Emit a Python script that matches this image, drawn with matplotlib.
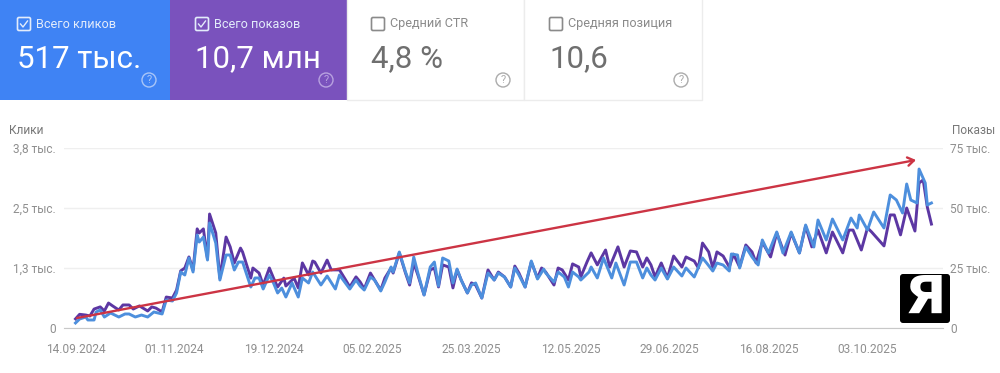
import matplotlib.pyplot as plt
from matplotlib.patches import Rectangle, FancyBboxPatch, Circle

plt.rcParams["font.family"] = ["Roboto", "DejaVu Sans"]

# Days since 14.09.2024 and impressions, thousands
shows_days = [0, 2, 5, 7, 9, 12, 14, 16, 18, 21, 23, 26, 28, 31, 35, 37, 39, 42, 44, 47, 49, 51, 53, 55, 57, 59, 60, 62, 64, 65, 68, 70, 73, 75, 77, 80, 81, 85, 86, 89, 91, 94, 96, 98, 101, 102, 106, 108, 110, 113, 115, 116, 119, 122, 124, 128, 131, 133, 136, 138,
              140, 143, 145, 148, 150, 153, 154, 157, 160, 162, 164, 166, 169, 172, 174, 176, 178, 181, 183, 185, 187, 190, 192, 194, 197, 200, 203, 205, 208, 211, 213, 215, 218, 221, 224, 226, 228, 232, 234, 236, 239, 241, 244, 245, 248, 250, 253, 257, 259, 263, 266, 269, 272, 275, 277, 279,
              281, 284, 287, 290, 294, 296, 300, 302, 304, 307, 309, 311, 314, 317, 319, 322, 325, 328, 330, 333, 337, 340, 344, 347, 351, 354, 357, 360, 364, 367, 372, 375, 377, 381, 384, 386, 392, 395, 397, 400, 403, 407, 409, 411, 413, 415]
shows = [3.8, 5.7, 5.4, 5.0, 7.9, 8.8, 7.1, 10.4, 9.2, 7.5, 9.6, 9.6, 7.9, 9.2, 7.1, 8.8, 8.3, 6.7, 12.9, 12.5, 15.8, 23.8, 25.0, 29.6, 24.2, 41.3, 39.6, 41.3, 28.8, 47.5, 39.6, 20.8, 37.9, 33.8, 27.1, 33.3, 31.7, 20.8, 25.0, 22.9, 17.9, 25.0, 20.8, 17.1, 20.8, 17.5, 20.8, 16.7, 27.1, 22.1, 27.9, 27.5, 22.9, 28.3, 24.2, 24.2, 20.0, 17.1, 21.3, 19.2,
         16.3, 22.9, 20.0, 15.8, 20.8, 25.0, 22.9, 31.3, 22.9, 17.9, 27.1, 22.1, 13.8, 24.2, 25.0, 17.1, 26.3, 25.4, 16.7, 24.2, 20.0, 14.6, 18.8, 17.9, 12.5, 24.2, 20.0, 23.3, 21.3, 17.1, 25.8, 22.9, 17.1, 27.5, 20.8, 25.0, 23.3, 17.9, 25.0, 24.2, 20.0, 26.7, 25.4, 21.3, 27.5, 31.3, 26.3, 32.5, 25.4, 33.8, 25.4, 32.1, 31.7, 25.4, 29.2, 26.3,
         21.3, 27.1, 20.8, 30.0, 25.4, 29.6, 27.9, 25.0, 35.4, 31.7, 25.0, 31.7, 30.0, 25.4, 30.8, 25.4, 34.6, 31.7, 27.1, 35.8, 29.6, 39.6, 30.4, 39.6, 31.3, 42.5, 33.8, 40.8, 31.3, 40.0, 31.3, 40.8, 40.8, 32.5, 41.7, 40.0, 34.2, 47.1, 47.1, 38.8, 50.0, 40.4, 60.4, 61.7, 50.4, 43.3]

# Days since 14.09.2024 and clicks
clicks_days = [0, 2, 5, 6, 9, 10, 12, 14, 17, 21, 24, 26, 29, 32, 35, 38, 42, 44, 47, 49, 51, 53, 55, 57, 59, 60, 62, 64, 65, 68, 70, 73, 75, 77, 79, 81, 85, 87, 89, 91, 94, 96, 98, 100, 102, 105, 108, 110, 113, 115, 119, 122, 126, 128, 133, 136, 138,
               140, 143, 145, 148, 150, 153, 154, 157, 160, 162, 164, 166, 169, 172, 174, 176, 178, 181, 183, 185, 187, 190, 192, 194, 197, 200, 203, 205, 208, 211, 213, 215, 218, 221, 224, 227, 228, 232, 234, 237, 239, 241, 244, 245, 249, 250, 253, 256, 260, 262, 266, 269, 272, 275, 277, 279,
               281, 284, 287, 290, 294, 296, 300, 304, 306, 309, 311, 314, 317, 318, 321, 322, 325, 328, 331, 333, 336, 340, 343, 347, 351, 354, 358, 360, 364, 367, 372, 376, 379, 380, 384, 387, 392, 395, 398, 401, 403, 405, 408, 409, 412, 413, 415]
clicks = [106, 190, 232, 169, 169, 338, 380, 232, 317, 232, 296, 296, 232, 274, 232, 338, 296, 591, 570, 739, 1182, 1119, 1478, 1182, 1963, 1815, 1921, 1435, 2217, 1794, 1013, 1541, 1541, 1224, 1393, 1393, 865, 1056, 1056, 823, 1119, 950, 739, 844, 654, 950, 654, 1056, 950, 1182, 908, 1098, 823, 1119, 823, 1013, 887,
          802, 1077, 1013, 781, 971, 1288, 1182, 1604, 1182, 950, 1499, 1161, 697, 1288, 1393, 887, 1478, 1414, 950, 1245, 1013, 739, 908, 950, 633, 1161, 1013, 1161, 1077, 865, 1267, 1119, 865, 1414, 1034, 1245, 1161, 971, 1182, 1077, 865, 1182, 1077, 1013, 1182, 1288, 1056, 1478, 1056, 1372, 908, 1393, 1393, 1056, 1267, 1119,
          1013, 1267, 1034, 1288, 1098, 1267, 1077, 1478, 1372, 1203, 1372, 1330, 1203, 1562, 1541, 1267, 1710, 1499, 1330, 1858, 1583, 2027, 1583, 2027, 1583, 2174, 1710, 2280, 1858, 2301, 1858, 2322, 2111, 2385, 2069, 2449, 2111, 2808, 2702, 2428, 3040, 2702, 2639, 3356, 3061, 2597, 2639]

tick_days = [0, 48, 96, 144, 192, 240, 288, 336, 384]
tick_dates = ["14.09.2024", "01.11.2024", "19.12.2024", "05.02.2025", "25.03.2025", "12.05.2025", "29.06.2025", "16.08.2025", "03.10.2025"]
clicks_ticks = [0, 1267, 2533, 3800]
clicks_labels = ["0", "1,3 тыс.", "2,5 тыс.", "3,8 тыс."]
shows_ticks = [0, 25, 50, 75]
shows_labels = ["0", "25 тыс.", "50 тыс.", "75 тыс."]

card_names = ["Всего кликов", "Всего показов", "Средний CTR", "Средняя позиция"]
card_values = ["517 тыс.", "10,7 млн", "4,8 %", "10,6"]

W, H = 1000, 373
GREY = "#8f8f8f"

fig = plt.figure(figsize=(W / 100, H / 100), dpi=100)

# Chart: left axis holds clicks, right axis impressions
ax = fig.add_axes([64 / W, 1 - 328 / H, 879 / W, 180 / H])
ax.set_xlim((64 - 75.5) / 2.0625, (943 - 75.5) / 2.0625)
ax.set_ylim(0, 3800)
ax.set_xticks(tick_days, tick_dates)
ax.set_yticks(clicks_ticks, clicks_labels)
ax.grid(axis="y", color="#efefef", lw=1)
ax.tick_params(length=0, labelcolor=GREY, labelsize=8.6)
ax.tick_params(axis="x", pad=11)
ax.tick_params(axis="y", pad=6)
for s in ax.spines.values():
    s.set_visible(False)
ax.spines["bottom"].set_visible(True)
ax.spines["bottom"].set_color("#c8c8c8")

ax3 = ax.twinx()
ax3.set_ylim(0, 3800)
ax3.set_yticks([])
for s in ax3.spines.values():
    s.set_visible(False)

ax2 = ax.twinx()
ax2.set_ylim(0, 75)
ax2.set_yticks(shows_ticks, shows_labels)
ax2.tick_params(length=0, labelcolor=GREY, labelsize=8.6, pad=5)
for s in ax2.spines.values():
    s.set_visible(False)

ax2.plot(shows_days, shows, color="#5c37a3", lw=2.1, solid_joinstyle="round")
ax3.set_zorder(ax2.get_zorder() + 1)
ax3.plot(clicks_days, clicks, color="#4d8fdd", lw=2.1, solid_joinstyle="round")

# Everything else is placed in pixels of the picture
top = fig.add_axes([0, 0, 1, 1], zorder=5)
top.set_xlim(0, W)
top.set_ylim(H, 0)
top.axis("off")

lefts = [0, 170, 347, 524]
rights = [170, 347, 524, 702]
pads = [17, 25, 24, 25]
fills = ["#3f83f4", "#7a52bd", "white", "white"]
marks = ["#a9c6f8", "#b8a2e0", "#ababab", "#ababab"]
for i in range(4):
    dark = i < 2
    text_c = "white" if dark else "#6f6f6f"
    name_c = "#e3ecfb" if dark else "#8a8a8a"
    x0 = lefts[i]
    bx = x0 + pads[i]
    top.add_patch(Rectangle((x0, -2), rights[i] - x0, 101.5, fc=fills[i], ec="#ececec" if not dark else "none", lw=1))
    top.add_patch(FancyBboxPatch((bx + 0.5, 17.5), 13, 13, boxstyle="round,pad=0,rounding_size=1.5", fc="none", ec=name_c, lw=1.2))
    if dark:
        top.plot([bx + 3.5, bx + 6, bx + 10.5], [24, 27, 21], color=name_c, lw=1)
    top.text(bx + 19.5, 24, card_names[i], color=name_c, fontsize=9.1, va="center")
    top.text(bx, 59, card_values[i], color=text_c, fontsize=22.5, va="center")
    qx = rights[i] - 21
    top.add_patch(Circle((qx, 80), 7, fc="none", ec=marks[i], lw=1))
    top.text(qx, 80, "?", color=marks[i], fontsize=8, ha="center", va="center")

top.text(9, 131, "Клики", color="#777777", fontsize=8.6, va="center")
top.text(995, 131, "Показы", color="#777777", fontsize=8.6, va="center", ha="right")

top.annotate("", xy=(916, 160), xytext=(77, 318),
             arrowprops=dict(arrowstyle="->,head_length=0.45,head_width=0.3", color="#cc3444", lw=1.7, shrinkA=0, shrinkB=0))

top.add_patch(FancyBboxPatch((900, 274), 50, 49, boxstyle="round,pad=0,rounding_size=3", fc="black", ec="none"))
top.text(925, 299, "Я", color="white", family="DejaVu Sans", fontweight="bold", fontsize=39, ha="center", va="center")

fig.savefig("out.png", dpi=100)
